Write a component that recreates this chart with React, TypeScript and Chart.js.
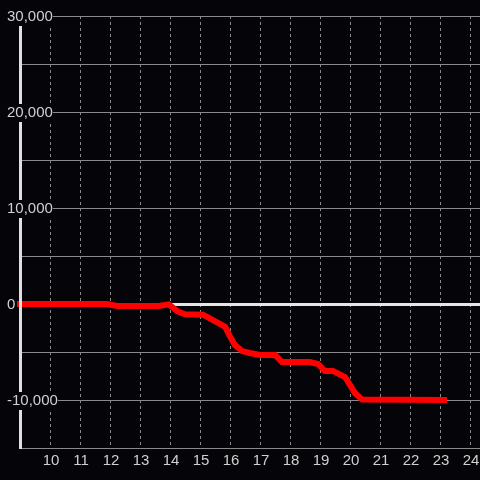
import React, { useEffect, useRef } from "react";
import { Chart, registerables } from "chart.js";

Chart.register(...registerables);

// Hours (x) and cumulative values (y) of the red series
const HOURS = [8.5, 11.87, 12.2, 13.6, 13.93, 14.23, 14.47, 15.07, 15.4, 15.8, 15.97, 16.13, 16.37, 16.63, 16.97, 17.47, 17.7, 18.63, 18.9, 19.13, 19.4, 19.8, 19.97, 20.13, 20.37, 23.2];
const VALUES = [0, 0, -210, -210, -40, -800, -1070, -1110, -1670, -2360, -3400, -4270, -4900, -5100, -5310, -5310, -6040, -6040, -6250, -6980, -6980, -7600, -8440, -9270, -9950, -10000];

const X_TICKS = [10, 11, 12, 13, 14, 15, 16, 17, 18, 19, 20, 21, 22, 23, 24];
const X_MIN = 8.967;
const X_MAX = 24.3;
const Y_MIN = -15000;
const Y_MAX = 30000;
const Y_STEP = 5000;
const Y_LABEL_STEP = 10000;

const BG = "#050408";
const FONT = { family: "'Liberation Sans', Arial, sans-serif", size: 15 };

export default function App() {
  const ref = useRef<HTMLCanvasElement | null>(null);

  useEffect(() => {
    if (!ref.current) return;
    const bgPlugin = {
      id: "bg",
      beforeDraw(chart: any) {
        const { ctx, width, height } = chart;
        ctx.save();
        ctx.fillStyle = BG;
        ctx.fillRect(0, 0, width, height);
        ctx.restore();
      },
    };
    const chart = new Chart(ref.current, {
      type: "line",
      data: {
        datasets: [
          {
            data: HOURS.map((h, i) => ({ x: h, y: VALUES[i] })),
            borderColor: "#ff0000",
            backgroundColor: "#ff0000",
            borderWidth: 6,
            pointRadius: 0,
            tension: 0,
            fill: false,
            clip: { left: 3, top: 3, right: 3, bottom: 3 },
          },
        ],
      },
      options: {
        animation: false,
        responsive: false,
        events: [],
        layout: { padding: { top: 16, left: 0, right: 0, bottom: 0 } },
        plugins: { legend: { display: false }, tooltip: { enabled: false } },
        scales: {
          x: {
            type: "linear",
            min: X_MIN,
            max: X_MAX,
            afterBuildTicks: (scale: any) => {
              scale.ticks = X_TICKS.map((v) => ({ value: v }));
            },
            afterFit: (scale: any) => {
              scale.height = 32;
              scale.paddingRight = 0;
              scale.paddingLeft = 0;
            },
            ticks: {
              color: "#d0d0d0",
              font: FONT,
              padding: 4,
              maxRotation: 0,
              autoSkip: false,
              callback: (v: any) => String(v),
            },
            grid: { color: "#8a8a8a", lineWidth: 1, drawTicks: false },
            border: { color: "#8a8a8a", width: 1, dash: [3, 3] },
          },
          y: {
            type: "linear",
            min: Y_MIN,
            max: Y_MAX,
            afterFit: (scale: any) => {
              scale.width = 20;
              scale.paddingTop = 0;
              scale.paddingBottom = 0;
            },
            ticks: {
              stepSize: Y_STEP,
              color: "#d0d0d0",
              font: FONT,
              mirror: true,
              padding: -13,
              crossAlign: "near",
              labelOffset: 1,
              showLabelBackdrop: true,
              backdropColor: BG,
              backdropPadding: 0,
              z: 2,
              callback: (v: any) =>
                Number(v) % Y_LABEL_STEP === 0 ? Number(v).toLocaleString("en-US") : "",
            },
            grid: {
              drawTicks: false,
              color: (c: any) => (c.tick && c.tick.value === 0 ? "#e6e6e6" : "#8a8a8a"),
              lineWidth: (c: any) => (c.tick && c.tick.value === 0 ? 3 : 1),
            },
            border: { color: "#e0e0e0", width: 3, z: 1 },
          },
        },
      },
      plugins: [bgPlugin],
    } as any);
    return () => chart.destroy();
  }, []);

  return (
    <div style={{ position: "fixed", left: 0, top: 0, width: 480, height: 480, background: BG }}>
      <canvas ref={ref} width={480} height={480} style={{ display: "block" }} />
    </div>
  );
}
